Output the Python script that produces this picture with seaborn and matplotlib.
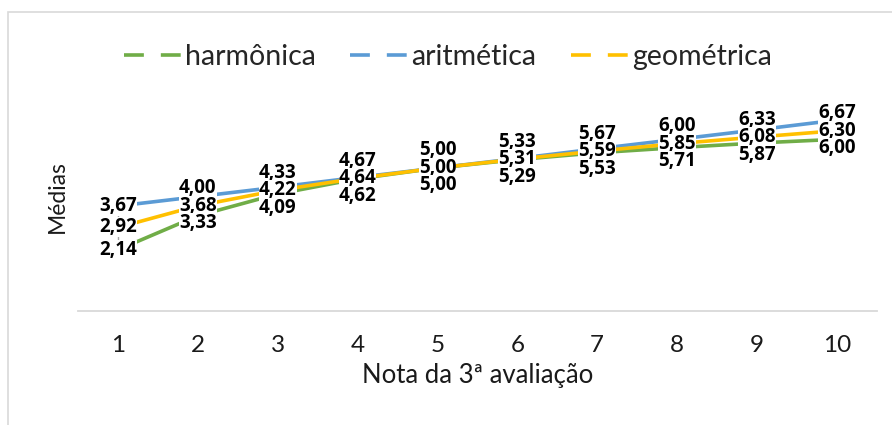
import numpy as np
import pandas as pd
import matplotlib
matplotlib.use('Agg')
import matplotlib.pyplot as plt
import seaborn as sns
from matplotlib.lines import Line2D
from matplotlib.patches import Rectangle

# ---- data ----
notas = [1, 2, 3, 4, 5, 6, 7, 8, 9, 10]
harmonica = [2.14, 3.33, 4.09, 4.62, 5.00, 5.29, 5.53, 5.71, 5.87, 6.00]
aritmetica = [3.67, 4.00, 4.33, 4.67, 5.00, 5.33, 5.67, 6.00, 6.33, 6.67]
geometrica = [2.92, 3.68, 4.22, 4.64, 5.00, 5.31, 5.59, 5.85, 6.08, 6.30]
series_names = ['harmônica', 'aritmética', 'geométrica']

cores = {'harmônica': '#70AD47', 'aritmética': '#5B9BD5', 'geométrica': '#FFC000'}

df = pd.DataFrame({'Nota': notas * 3,
                   'Média': harmonica + aritmetica + geometrica,
                   'Série': np.repeat(series_names, len(notas))})

sns.set_theme(style='white')
plt.rcParams['font.family'] = ['Lato', 'DejaVu Sans']

fig = plt.figure(figsize=(8.92, 4.25), dpi=100)
ax = fig.add_axes([0.0874, 0.268, 0.8956, 0.539])

# chart border like the spreadsheet frame
fig.patches.append(Rectangle((8 / 892, -0.2), 1.2, 0.972 + 0.2, transform=fig.transFigure,
                             fill=False, edgecolor='#D9D9D9', linewidth=1.2, zorder=0))

# high-low lines
lows = np.minimum.reduce([harmonica, aritmetica, geometrica])
highs = np.maximum.reduce([harmonica, aritmetica, geometrica])
ax.vlines(notas, lows, highs, color='#A5A5A5', linewidth=1, zorder=1)

sns.lineplot(data=df, x='Nota', y='Média', hue='Série', palette=cores, linewidth=2.6,
             ax=ax, legend=False, zorder=2)

ax.set_xlim(0.5, 10.5)
ax.set_ylim(0, 8)
ax.set_yticks([])
ax.set_xticks(notas)
ax.set_xticklabels([str(n) for n in notas], fontsize=17.5, color='#1a1a1a')
ax.tick_params(axis='x', length=0, pad=17)
for s in ['top', 'right', 'left']:
    ax.spines[s].set_visible(False)
ax.spines['bottom'].set_color('#D9D9D9')
ax.spines['bottom'].set_linewidth(1.3)

ax.set_xlabel('Nota da 3ª avaliação', fontsize=18.5, color='#1a1a1a', labelpad=5)
ax.set_ylabel('Médias', fontsize=16.5, color='#1a1a1a', labelpad=7)

# data labels: geometric centred on its point, others pushed apart when crowded
px_per_unit = ax.get_window_extent().height / 8
min_gap = 17.5 / px_per_unit
for i, n in enumerate(notas):
    g = geometrica[i]
    a_y = max(aritmetica[i], g + min_gap)
    h_y = min(harmonica[i], g - min_gap)
    for val, y in [(aritmetica[i], a_y), (g, g), (harmonica[i], h_y)]:
        ax.text(n, y, f'{val:.2f}'.replace('.', ','), ha='center', va='center',
                fontsize=13.5, fontweight='bold', family=['Open Sans', 'DejaVu Sans'],
                color='#000000', zorder=4,
                bbox=dict(boxstyle='square,pad=0.0', facecolor='white', edgecolor='none'))

handles = [Line2D([0], [0], color=cores[s], linewidth=2.6, linestyle=(0, (5.5, 4.7)))
           for s in series_names]
fig.legend(handles, series_names, loc='center', bbox_to_anchor=(0.502, 0.866), ncol=3,
           frameon=False, fontsize=20.5, handlelength=2.0, handletextpad=0.15, columnspacing=1.2)

fig.savefig('out.png', dpi=100)
